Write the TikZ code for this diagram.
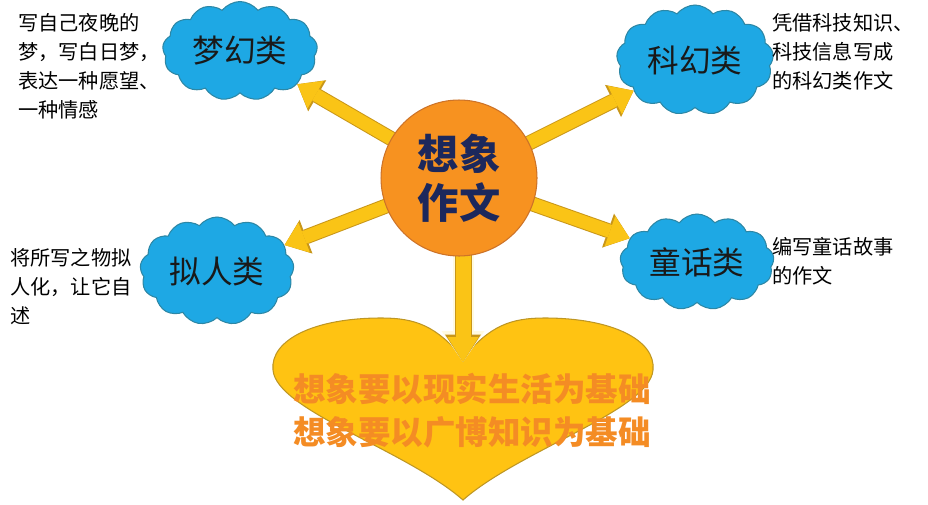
\documentclass[tikz,border=0pt]{standalone}
\usepackage{fontspec}
\setmainfont{Noto Sans CJK SC}
\usetikzlibrary{shapes.symbols,arrows.meta,backgrounds}
\definecolor{skyblue}{RGB}{30,168,228}
\definecolor{cloudedge}{RGB}{45,135,165}
\definecolor{hubfill}{RGB}{247,146,32}
\definecolor{hubedge}{RGB}{205,115,40}
\definecolor{navy}{RGB}{28,40,92}
\definecolor{arrowfill}{RGB}{250,196,22}
\definecolor{arrowedge}{RGB}{200,150,25}
\definecolor{paleedge}{RGB}{255,250,225}
\definecolor{heartfill}{RGB}{255,195,18}
\definecolor{heartedge}{RGB}{190,150,35}
\definecolor{hearttxt}{RGB}{244,140,36}

\begin{document}
\begin{tikzpicture}[x=0.02cm,y=-0.02cm,
  blob/.style={cloud,cloud puffs=13,cloud puff arc=105,cloud ignores aspect,
    fill=skyblue,draw=cloudedge,line width=0.6pt,minimum width=3.1cm,minimum height=1.98cm,
    font=\fontsize{18}{20}\selectfont,text=black!90},
  note/.style={anchor=north west,align=left,inner sep=0pt,
    font=\fontsize{11.5}{16.5}\selectfont,text=black},
  blockarrow/.style={draw=arrowfill,line width=0.26cm,
    -{Triangle[length=0.42cm,width=0.64cm,line width=0pt]},
    preaction={draw=arrowedge,line width=0.30cm,
      -{Triangle[length=0.46cm,width=0.72cm,line width=0pt]}}},
  droparrow/.style={draw=arrowfill,line width=0.30cm,
    -{Triangle[length=0.50cm,width=0.62cm,line width=0pt]},
    preaction={draw=paleedge,line width=0.42cm,
      -{Triangle[length=0.62cm,width=0.86cm,line width=0pt]}},
    preaction={draw=arrowedge,line width=0.34cm,
      -{Triangle[length=0.55cm,width=0.72cm,line width=0pt]}}}]
\useasboundingbox (0,0) rectangle (928,504);

\node[blob] (dream) at (240,51) {梦幻类};
\node[blob,minimum width=3.14cm,minimum height=2.2cm] (scifi) at (695,60) {科幻类};
\node[blob,minimum width=3.08cm,minimum height=2.16cm] (person) at (217,271) {拟人类};
\node[blob,minimum width=3.08cm,minimum height=1.92cm] (fairy) at (697,262) {童话类};

\node[note] (dreamnote) at (18,13) {写自己夜晚的\\梦，写白日梦，\\表达一种愿望、\\一种情感};
\node[note] (scifinote) at (772,13) {凭借科技知识、\\科技信息写成\\的科幻类作文};
\node[note] (personnote) at (10,248) {将所写之物拟\\人化，让它自\\述};
\node[note] (fairynote) at (772,237) {编写童话故事\\的作文};

\node[circle,fill=hubfill,draw=hubedge,line width=0.6pt,minimum size=3.12cm,
  align=center,text=navy,font=\bfseries\fontsize{23.5}{28}\selectfont] (core) at (459,178) {想象\\作文};

\coordinate (drop) at (463,362);
\node[align=center,text=hearttxt,font=\bfseries\fontsize{18.5}{24.5}\selectfont] (motto) at (472,411)
  {想象要以现实生活为基础\\想象要以广博知识为基础};

\begin{pgfonlayer}{background}
\filldraw[fill=heartfill,draw=heartedge,line width=0.6pt] (463,358)
  .. controls (490,326) and (510,318) .. (545,318)
  .. controls (612,318) and (656,340) .. (653,370)
  .. controls (650,410) and (520,450) .. (463,500)
  .. controls (406,450) and (276,410) .. (273,370)
  .. controls (270,340) and (314,318) .. (381,318)
  .. controls (416,318) and (436,326) .. (463,358) -- cycle;
\draw[blockarrow] (core.center) -- (dream);
\draw[blockarrow] (core.center) -- (scifi);
\draw[blockarrow] (core.center) -- (person);
\draw[blockarrow] (core.center) -- (fairy);
\draw[droparrow] (core.center -| drop) -- (drop);
\end{pgfonlayer}
\end{tikzpicture}
\end{document}
